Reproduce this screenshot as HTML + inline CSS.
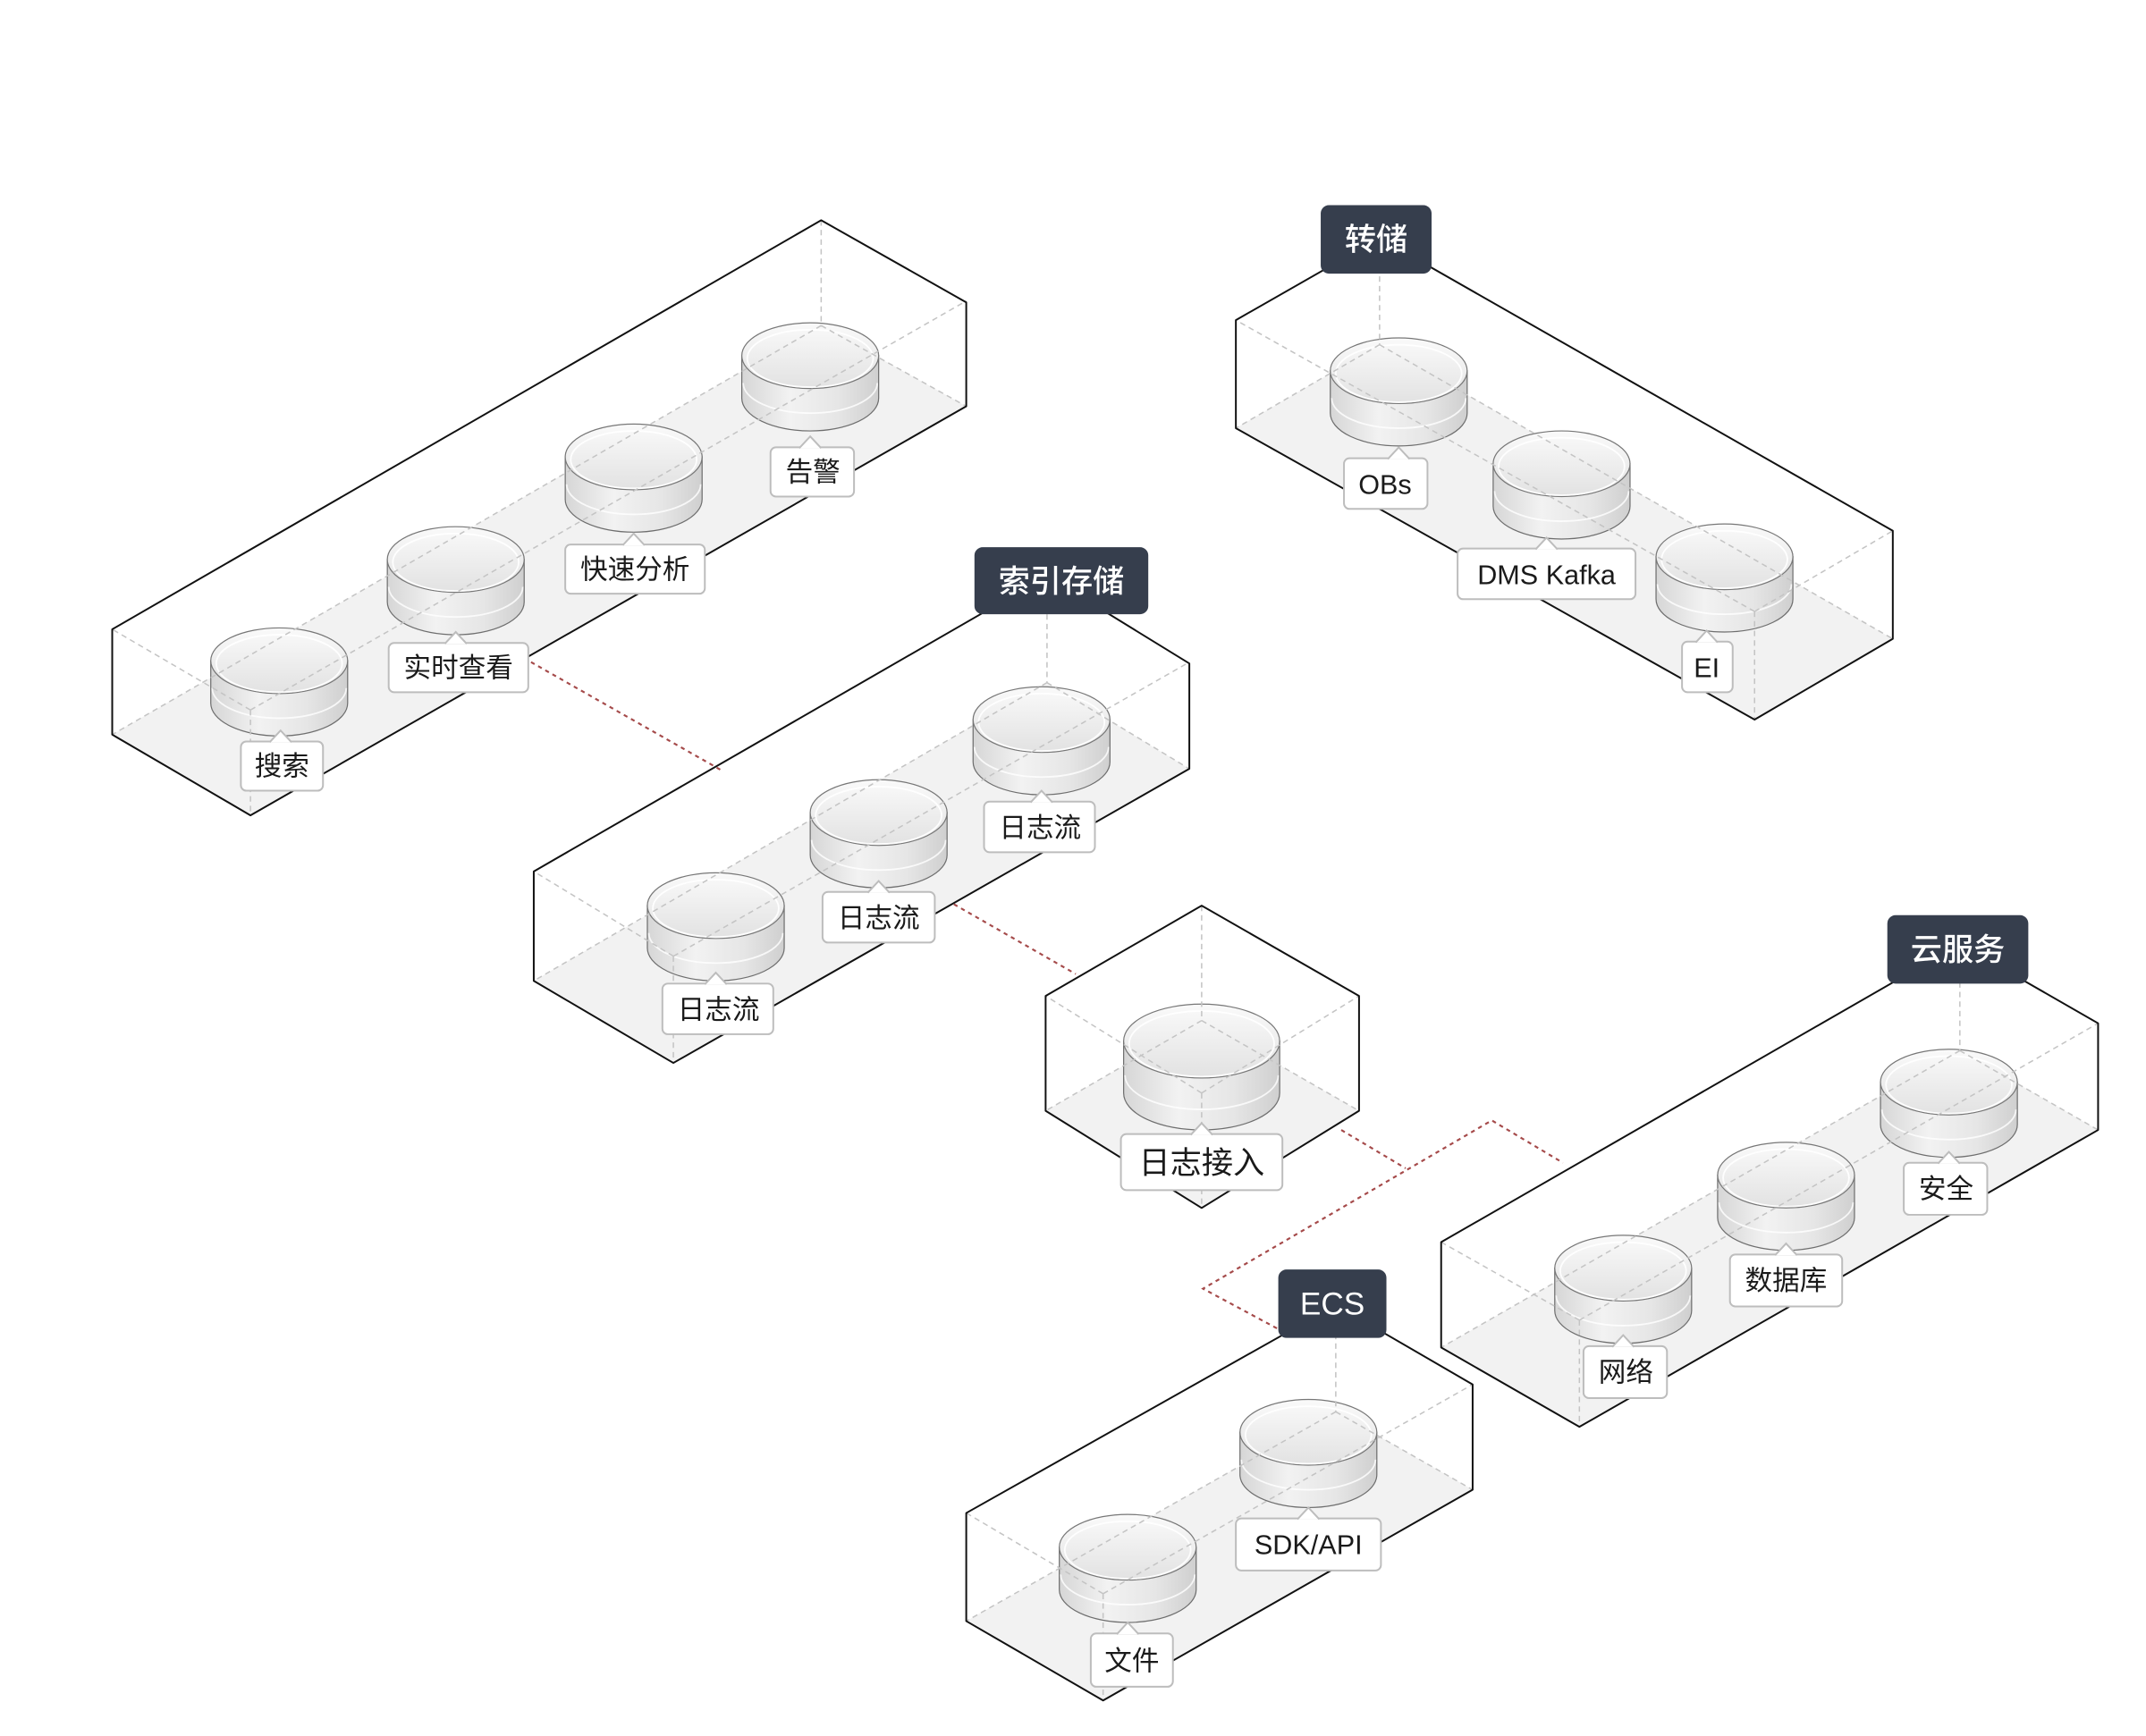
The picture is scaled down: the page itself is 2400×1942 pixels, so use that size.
<!DOCTYPE html>
<html><head><meta charset="utf-8"><style>
html,body{margin:0;padding:0;background:#fff;}
svg{display:block;}
text{font-family:"Liberation Sans","Noto Sans CJK SC",sans-serif;}
.lb{font-size:20px;fill:#1a1a1a;text-anchor:middle;}
.tg{font-size:23px;fill:#fff;text-anchor:middle;font-weight:500;}
.ol{fill:none;stroke:#111;stroke-width:1.3;stroke-linejoin:round;}
.dl{fill:none;stroke:#c4c4c4;stroke-width:1;stroke-dasharray:4 3;}
.fl{fill:#f2f2f2;stroke:none;}
.cn{fill:none;stroke:#a54a4a;stroke-width:1.4;stroke-dasharray:3 3;}
.lr{fill:#fff;stroke:#bdbdbd;stroke-width:1.3;}
.tr{fill:#363e4d;}
</style></head><body>
<svg width="2400" height="1942" viewBox="0 0 1568 1269" preserveAspectRatio="none" xmlns="http://www.w3.org/2000/svg">
<defs>
<linearGradient id="bd" x1="0" y1="0" x2="1" y2="0">
<stop offset="0" stop-color="#d6d6d6"/><stop offset="0.35" stop-color="#f2f2f2"/><stop offset="0.7" stop-color="#e6e6e6"/><stop offset="1" stop-color="#cfcfcf"/></linearGradient>
<linearGradient id="tp" x1="0" y1="0" x2="0" y2="1">
<stop offset="0" stop-color="#fafafa"/><stop offset="1" stop-color="#e2e2e2"/></linearGradient>
<g id="cyl">
<path d="M-50,24 L-50,55 A50,24 0 0 0 50,55 L50,24 Z" fill="url(#bd)" stroke="#6e6e6e" stroke-width="0.8"/>
<path d="M-49,44 A49,22 0 0 0 49,44" fill="none" stroke="#fff" stroke-width="1.2" opacity="0.8"/>
<ellipse cx="0" cy="24" rx="50" ry="24" fill="url(#tp)" stroke="#777" stroke-width="0.8"/>
<ellipse cx="0" cy="26" rx="46" ry="21" fill="none" stroke="#fff" stroke-width="1.2" opacity="0.9"/>
</g>
<g id="cylb">
<path d="M-57,27 L-57,65 A57,27 0 0 0 57,65 L57,27 Z" fill="url(#bd)" stroke="#6e6e6e" stroke-width="0.8"/>
<path d="M-56,52 A56,25 0 0 0 56,52" fill="none" stroke="#fff" stroke-width="1.2" opacity="0.8"/>
<ellipse cx="0" cy="27" rx="57" ry="27" fill="url(#tp)" stroke="#777" stroke-width="0.8"/>
<ellipse cx="0" cy="29" rx="53" ry="24" fill="none" stroke="#fff" stroke-width="1.2" opacity="0.9"/>
</g>
</defs>

<!-- connectors -->
<polyline class="cn" points="388,484 527,563"/>
<polyline class="cn" points="697,661 786,712"/>
<polyline class="cn" points="980,826 1027,854"/>
<polyline class="cn" points="933,971 879,942 1090,819 1142,850"/>

<!-- Box 1 -->
<polygon class="fl" points="82,537 600,238 706,297 183,596"/>
<use href="#cyl" x="204" y="459"/><use href="#cyl" x="333" y="385"/><use href="#cyl" x="463" y="310"/><use href="#cyl" x="592" y="236"/>
<path class="dl" d="M600,161 L600,238 M600,238 L82,537 M600,238 L706,297 M183,519 L82,460 M183,519 L706,220 M183,519 L183,596"/>
<polygon class="ol" points="82,460 600,161 706,221 706,297 183,596 82,537"/>

<!-- Box 2 -->
<polygon class="fl" points="390,717 765,499 869,562 492,777"/>
<use href="#cyl" x="523" y="638"/><use href="#cyl" x="642" y="570"/><use href="#cyl" x="761" y="502"/>
<path class="dl" d="M765,421 L765,499 M765,499 L390,717 M765,499 L869,562 M492,699 L390,637 M492,699 L869,484 M492,699 L492,777"/>
<polygon class="ol" points="390,637 765,421 869,485 869,562 492,777 390,717"/>

<!-- Box 3 -->
<polygon class="fl" points="764,812 878,746 993,812 878,883"/>
<use href="#cylb" x="878" y="734"/>
<path class="dl" d="M878,662 L878,746 M878,746 L764,812 M878,746 L993,812 M878,799 L764,728 M878,799 L993,728 M878,799 L878,883"/>
<polygon class="ol" points="764,728 878,662 993,728 993,812 878,883 764,812"/>

<!-- Box 4 -->
<polygon class="fl" points="903,313 1008,252 1383,467 1282,526"/>
<use href="#cyl" x="1022" y="247"/><use href="#cyl" x="1141" y="315"/><use href="#cyl" x="1260" y="383"/>
<path class="dl" d="M1008,174 L1008,252 M1008,252 L903,313 M1008,252 L1383,467 M1282,447 L903,234 M1282,447 L1383,388 M1282,447 L1282,526"/>
<polygon class="ol" points="903,234 1008,174 1383,388 1383,467 1282,526 903,313"/>

<!-- Box 5 -->
<polygon class="fl" points="1053,985 1432,768 1533,826 1154,1043"/>
<use href="#cyl" x="1186" y="903"/><use href="#cyl" x="1305" y="835"/><use href="#cyl" x="1424" y="767"/>
<path class="dl" d="M1432,690 L1432,768 M1432,768 L1053,985 M1432,768 L1533,826 M1154,965 L1053,908 M1154,965 L1533,748 M1154,965 L1154,1043"/>
<polygon class="ol" points="1053,908 1432,690 1533,748 1533,826 1154,1043 1053,985"/>

<!-- Box 6 -->
<polygon class="fl" points="706,1185 976,1032 1076,1089 806,1243"/>
<use href="#cyl" x="824" y="1107"/><use href="#cyl" x="956" y="1023"/>
<path class="dl" d="M976,954 L976,1032 M976,1032 L706,1185 M976,1032 L1076,1089 M806,1165 L706,1106 M806,1165 L1076,1012 M806,1165 L806,1243"/>
<polygon class="ol" points="706,1106 976,954 1076,1012 1076,1089 806,1243 706,1185"/>

<!-- labels -->
<g>
<rect class="lr" x="176" y="542" width="60" height="36" rx="4"/><path d="M197,542.6 L205,534 L213,542.6" fill="#fff" stroke="#bdbdbd" stroke-width="1.3"/><text class="lb" x="206" y="567">搜索</text>
<rect class="lr" x="284" y="470" width="102" height="36" rx="4"/><path d="M325,470.6 L333,462 L341,470.6" fill="#fff" stroke="#bdbdbd" stroke-width="1.3"/><text class="lb" x="335" y="495">实时查看</text>
<rect class="lr" x="413" y="398" width="102" height="36" rx="4"/><path d="M455,398.6 L463,390 L471,398.6" fill="#fff" stroke="#bdbdbd" stroke-width="1.3"/><text class="lb" x="464" y="423">快速分析</text>
<rect class="lr" x="563" y="327" width="61" height="36" rx="4"/><path d="M584,327.6 L592,319 L600,327.6" fill="#fff" stroke="#bdbdbd" stroke-width="1.3"/><text class="lb" x="594" y="352">告警</text>

<rect class="lr" x="484" y="719" width="81" height="37" rx="4"/><path d="M515,719.6 L523,711 L531,719.6" fill="#fff" stroke="#bdbdbd" stroke-width="1.3"/><text class="lb" x="525" y="745">日志流</text>
<rect class="lr" x="601" y="652" width="82" height="37" rx="4"/><path d="M634,652.6 L642,644 L650,652.6" fill="#fff" stroke="#bdbdbd" stroke-width="1.3"/><text class="lb" x="642" y="678">日志流</text>
<rect class="lr" x="719" y="586" width="81" height="37" rx="4"/><path d="M753,586.6 L761,578 L769,586.6" fill="#fff" stroke="#bdbdbd" stroke-width="1.3"/><text class="lb" x="760" y="612">日志流</text>

<rect class="lr" x="819" y="829" width="118" height="41" rx="4"/><path d="M870,829.6 L878,821 L886,829.6" fill="#fff" stroke="#bdbdbd" stroke-width="1.3"/><text class="lb" x="878" y="858" style="font-size:23px">日志接入</text>

<rect class="lr" x="982" y="335" width="61" height="37" rx="4"/><path d="M1014,335.6 L1022,327 L1030,335.6" fill="#fff" stroke="#bdbdbd" stroke-width="1.3"/><text class="lb" x="1012" y="361">OBs</text>
<rect class="lr" x="1065" y="401" width="130" height="37" rx="4"/><path d="M1122,401.6 L1130,393 L1138,401.6" fill="#fff" stroke="#bdbdbd" stroke-width="1.3"/><text class="lb" x="1130" y="427">DMS Kafka</text>
<rect class="lr" x="1229" y="469" width="37" height="37" rx="4"/><path d="M1239,469.6 L1247,461 L1255,469.6" fill="#fff" stroke="#bdbdbd" stroke-width="1.3"/><text class="lb" x="1247" y="495">EI</text>

<rect class="lr" x="1157" y="984" width="61" height="38" rx="4"/><path d="M1178,984.6 L1186,976 L1194,984.6" fill="#fff" stroke="#bdbdbd" stroke-width="1.3"/><text class="lb" x="1188" y="1010">网络</text>
<rect class="lr" x="1264" y="917" width="82" height="38" rx="4"/><path d="M1297,917.6 L1305,909 L1313,917.6" fill="#fff" stroke="#bdbdbd" stroke-width="1.3"/><text class="lb" x="1305" y="943">数据库</text>
<rect class="lr" x="1391" y="850" width="61" height="38" rx="4"/><path d="M1416,850.6 L1424,842 L1432,850.6" fill="#fff" stroke="#bdbdbd" stroke-width="1.3"/><text class="lb" x="1422" y="876">安全</text>

<rect class="lr" x="797" y="1194" width="60" height="39" rx="4"/><path d="M816,1194.6 L824,1186 L832,1194.6" fill="#fff" stroke="#bdbdbd" stroke-width="1.3"/><text class="lb" x="827" y="1221">文件</text>
<rect class="lr" x="903" y="1110" width="106" height="38" rx="4"/><path d="M948,1110.6 L956,1102 L964,1110.6" fill="#fff" stroke="#bdbdbd" stroke-width="1.3"/><text class="lb" x="956" y="1136">SDK/API</text>
</g>

<!-- tags -->
<rect class="tr" x="965" y="150" width="81" height="50" rx="6"/><text class="tg" x="1005.5" y="183">转储</text>
<rect class="tr" x="712" y="400" width="127" height="49" rx="6"/><text class="tg" x="775.5" y="433">索引存储</text>
<rect class="tr" x="1379" y="669" width="103" height="50" rx="6"/><text class="tg" x="1430.5" y="702">云服务</text>
<rect class="tr" x="934" y="928" width="79" height="50" rx="6"/><text class="tg" x="973.5" y="961">ECS</text>
</svg>
</body></html>
